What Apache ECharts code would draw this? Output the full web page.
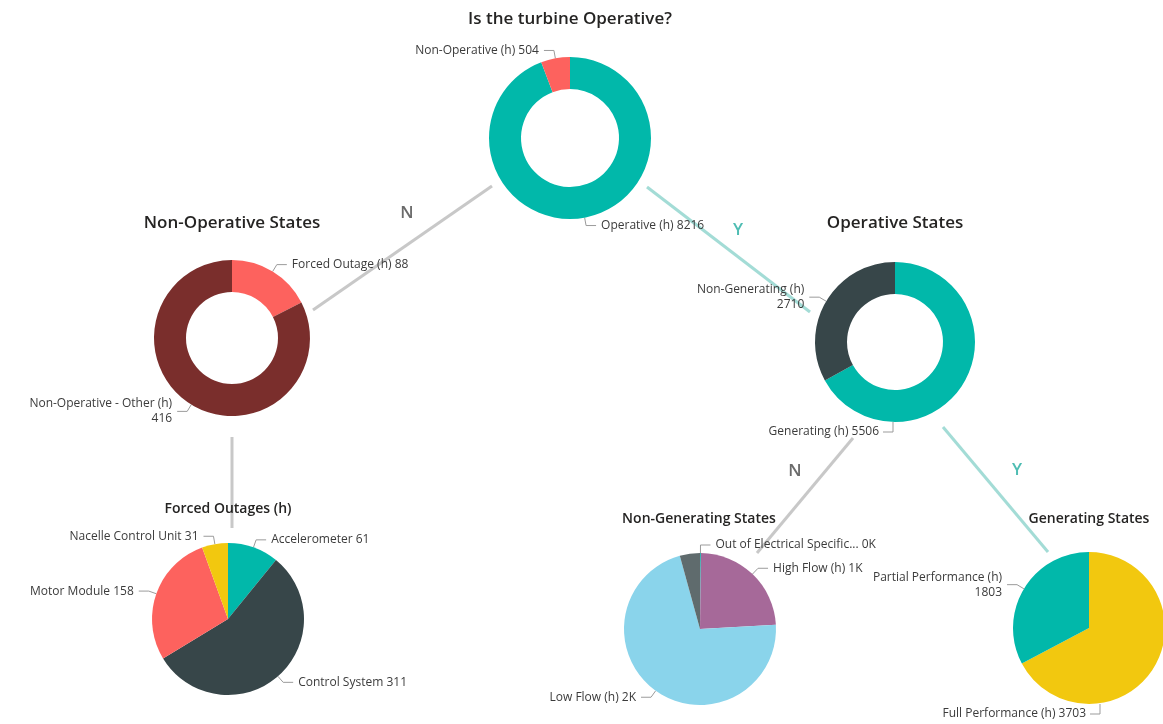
<!DOCTYPE html>
<html>
<head>
<meta charset="utf-8">
<title>Turbine operating states</title>
<script src="https://cdn.jsdelivr.net/npm/echarts@6/dist/echarts.min.js"></script>
<style>
  html, body { margin: 0; padding: 0; background: #ffffff; }
  #chart { width: 1163px; height: 724px; }
</style>
</head>
<body>
<div id="chart"></div>
<script>
// Hours spent in each state, split along the decision tree
const turbineStates = ['Operative (h)', 'Non-Operative (h)'];
const turbineHours = [8216, 504];

const nonOperativeStates = ['Forced Outage (h)', 'Non-Operative - Other (h)'];
const nonOperativeHours = [88, 416];

const operativeStates = ['Generating (h)', 'Non-Generating (h)'];
const operativeHours = [5506, 2710];

const outageCauses = ['Accelerometer', 'Control System', 'Motor Module', 'Nacelle Control Unit'];
const outageHours = [61, 311, 158, 31];

const nonGeneratingStates = ['Out of Electrical Specific...', 'High Flow (h)', 'Low Flow (h)', 'Other (h)'];
const nonGeneratingHours = [5, 648, 1941, 116];

const generatingStates = ['Full Performance (h)', 'Partial Performance (h)'];
const generatingHours = [3703, 1803];

// Palette
const TEAL = '#01B8AA', CORAL = '#FD625E', SLATE = '#374649', GOLD = '#F2C80F';
const MAROON = '#7A2E2C', PLUM = '#A66999', SKY = '#8AD4EB', GREY = '#5F6B6D';

const FONT = 'Open Sans';

// Labels that wrap the value onto a second line
const wrappedLabels = new Set(['Non-Operative - Other (h)', 'Non-Generating (h)', 'Partial Performance (h)']);
// Slices whose label is left off
const hiddenLabels = new Set(['Other (h)']);

const plain = v => String(v);
const thousands = v => Math.round(v / 1000) + 'K';

function pieData(names, values, colors) {
  return names.map((name, i) => {
    const item = { name: name, value: values[i], itemStyle: { color: colors[i] } };
    if (hiddenLabels.has(name)) {
      item.label = { show: false };
      item.labelLine = { show: false };
    }
    return item;
  });
}

// Puts one slice's label beneath the pie, hooked from the bottom rim
function bottomLabel(names, target, cx, cy, r, offsetX) {
  const idx = names.indexOf(target);
  return function (p) {
    if (p.dataIndex !== idx) return;
    const x0 = cx + offsetX, y0 = cy + r, y1 = y0 + 10;
    return {
      x: x0 - 14,
      y: y1,
      align: 'right',
      verticalAlign: 'middle',
      labelLinePoints: [[x0, y0], [x0, y1], [x0 - 10, y1]]
    };
  };
}

function pieSeries(center, radius, data, fmt, extra) {
  return Object.assign({
    type: 'pie',
    center: center,
    radius: radius,
    startAngle: 90,
    clockwise: true,
    silent: true,
    animation: false,
    avoidLabelOverlap: false,
    data: data,
    itemStyle: { borderWidth: 0 },
    label: {
      show: true,
      position: 'outside',
      fontFamily: FONT,
      fontSize: 12,
      lineHeight: 15,
      color: '#3b3b3b',
      formatter: p => wrappedLabels.has(p.name)
        ? p.name + '\n' + fmt(p.value)
        : p.name + ' ' + fmt(p.value)
    },
    labelLine: {
      show: true,
      length: 8,
      length2: 10,
      smooth: false,
      lineStyle: { color: '#9b9b9b', width: 1 }
    },
    emphasis: { disabled: true }
  }, extra || {});
}

// Pie geometry
const TOP = { c: [570, 138], r: [49, 81] };
const NONOP = { c: [232, 338], r: [46, 78] };
const OP = { c: [895, 342], r: [48, 80] };
const FORCED = { c: [228, 619], r: 76 };
const NONGEN = { c: [700, 629], r: 76 };
const GEN = { c: [1089, 628], r: 76 };

const titleStyle = (size) => ({ fontFamily: FONT, fontSize: size, fontWeight: 600, color: '#252423' });
const branchLine = (x1, y1, x2, y2, color) => ({
  type: 'line', z: 0, silent: true,
  shape: { x1: x1, y1: y1, x2: x2, y2: y2 },
  style: { stroke: color, lineWidth: 3 }
});
const branchLetter = (x, y, text, color) => ({
  type: 'text', z: 1, silent: true, x: x, y: y,
  style: { text: text, fill: color, fontFamily: FONT, fontSize: 17, fontWeight: 600, align: 'center', verticalAlign: 'middle' }
});

const LINE_GREY = '#c8c8c8', LINE_TEAL = '#a3dcd6';

const option = {
  backgroundColor: '#ffffff',
  animation: false,
  title: [
    { text: 'Is the turbine Operative?', left: 570, top: 11, textAlign: 'center', padding: 0, textStyle: titleStyle(17) },
    { text: 'Non-Operative States', left: 232, top: 215, textAlign: 'center', padding: 0, textStyle: titleStyle(17) },
    { text: 'Operative States', left: 895, top: 215, textAlign: 'center', padding: 0, textStyle: titleStyle(17) },
    { text: 'Forced Outages (h)', left: 228, top: 502, textAlign: 'center', padding: 0, textStyle: titleStyle(14) },
    { text: 'Non-Generating States', left: 699, top: 512, textAlign: 'center', padding: 0, textStyle: titleStyle(14) },
    { text: 'Generating States', left: 1089, top: 512, textAlign: 'center', padding: 0, textStyle: titleStyle(14) }
  ],
  graphic: [
    branchLine(492, 186, 313, 310, LINE_GREY),
    branchLine(647, 187, 810, 312, LINE_TEAL),
    branchLine(232, 437, 232, 528, LINE_GREY),
    branchLine(853, 438, 757, 553, LINE_GREY),
    branchLine(943, 427, 1048, 552, LINE_TEAL),
    branchLetter(407, 213, 'N', '#6b6b6b'),
    branchLetter(738, 230, 'Y', '#4fbdb3'),
    branchLetter(795, 471, 'N', '#6b6b6b'),
    branchLetter(1017, 470, 'Y', '#4fbdb3')
  ],
  series: [
    pieSeries(TOP.c, TOP.r, pieData(turbineStates, turbineHours, [TEAL, CORAL]), plain),
    pieSeries(NONOP.c, NONOP.r, pieData(nonOperativeStates, nonOperativeHours, [CORAL, MAROON]), plain),
    pieSeries(OP.c, OP.r, pieData(operativeStates, operativeHours, [TEAL, SLATE]), plain, {
      labelLayout: bottomLabel(operativeStates, 'Generating (h)', OP.c[0], OP.c[1], OP.r[1], -2)
    }),
    pieSeries(FORCED.c, FORCED.r, pieData(outageCauses, outageHours, [TEAL, SLATE, CORAL, GOLD]), plain),
    pieSeries(NONGEN.c, NONGEN.r, pieData(nonGeneratingStates, nonGeneratingHours, [TEAL, PLUM, SKY, GREY]), thousands),
    pieSeries(GEN.c, GEN.r, pieData(generatingStates, generatingHours, [GOLD, TEAL]), plain, {
      labelLayout: bottomLabel(generatingStates, 'Full Performance (h)', GEN.c[0], GEN.c[1], GEN.r, 11)
    })
  ]
};

const chart = echarts.init(document.getElementById('chart'), null, { renderer: 'canvas' });
chart.setOption(option);
</script>
</body>
</html>
